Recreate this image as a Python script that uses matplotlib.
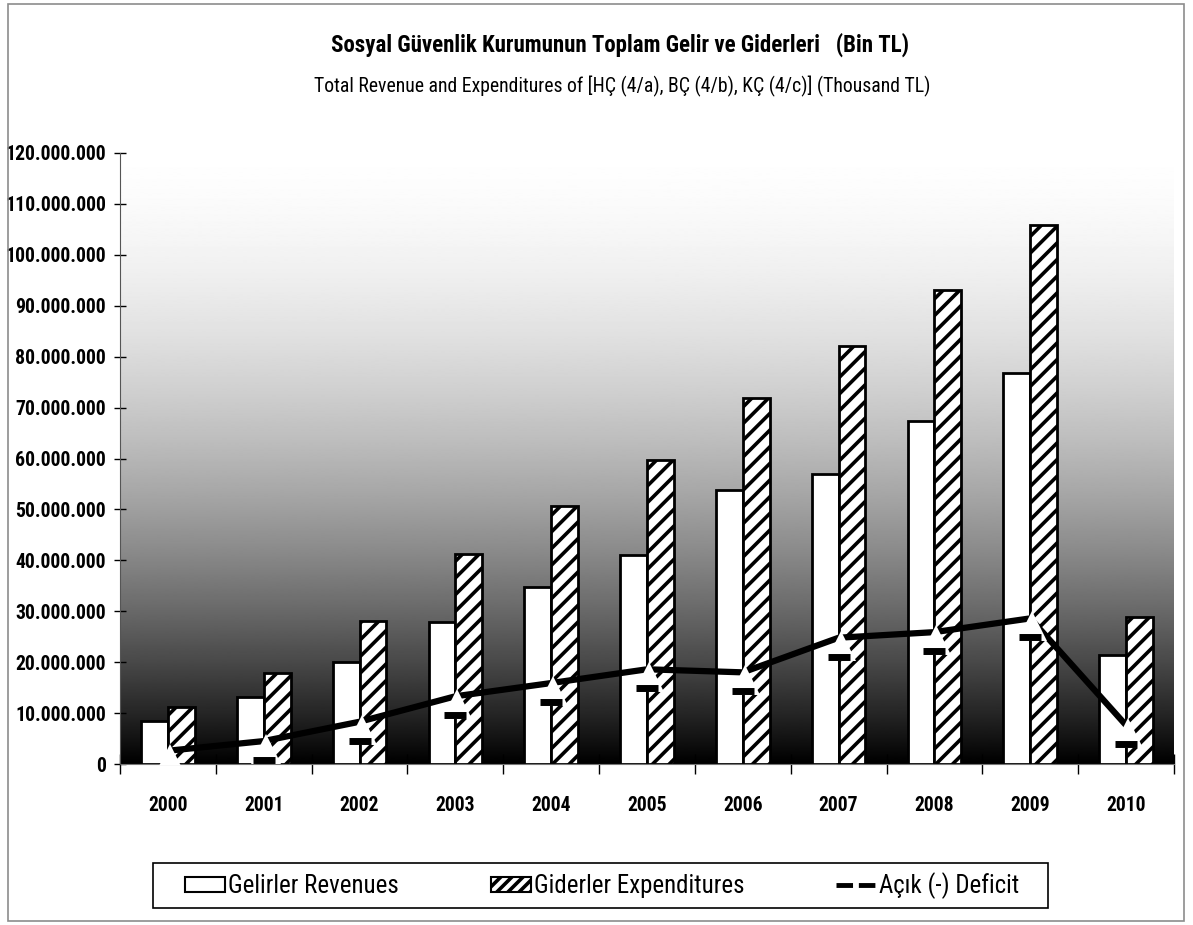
import numpy as np
import matplotlib
matplotlib.use("Agg")
import matplotlib.pyplot as plt
from matplotlib.patches import Patch, Rectangle
from matplotlib.lines import Line2D
from matplotlib.ticker import FuncFormatter, MultipleLocator, FixedLocator
from matplotlib import font_manager as fm
import matplotlib.transforms as mtransforms

years = ["2000", "2001", "2002", "2003", "2004", "2005", "2006", "2007", "2008", "2009", "2010"]
revenues = [8.4e6, 13.1e6, 20.0e6, 27.9e6, 34.8e6, 41.0e6, 53.8e6, 57.0e6, 67.3e6, 76.7e6, 21.5e6]
expenditures = [11.1e6, 17.9e6, 28.0e6, 41.2e6, 50.7e6, 59.8e6, 71.9e6, 82.0e6, 93.1e6, 105.9e6, 28.9e6]
deficit = [2.6e6, 4.5e6, 8.3e6, 13.3e6, 15.9e6, 18.6e6, 18.0e6, 24.8e6, 25.9e6, 28.6e6, 7.6e6]

title = "Sosyal Güvenlik Kurumunun Toplam Gelir ve Giderleri   (Bin TL)"
subtitle = "Total Revenue and Expenditures of [HÇ (4/a), BÇ (4/b), KÇ (4/c)] (Thousand TL)"
labels = ["Gelirler Revenues", "Giderler Expenditures", "Açık (-) Deficit"]

# ---- pick the narrowest available sans font ----
names = {f.name for f in fm.fontManager.ttflist}
family, stretch = "DejaVu Sans", "normal"
for cand in ["Liberation Sans Narrow", "Arial Narrow", "Roboto Condensed", "Open Sans Condensed",
             "Noto Sans Condensed", "DejaVu Sans Condensed"]:
    if cand in names:
        family = cand
        break
else:
    for f in fm.fontManager.ttflist:
        if f.name == "DejaVu Sans" and ("condensed" in str(f.stretch).lower() or "Condensed" in f.fname):
            stretch = "condensed"
            break

plt.rcParams['font.family'] = [family, "DejaVu Sans"]
plt.rcParams['font.stretch'] = stretch
plt.rcParams['hatch.linewidth'] = 2.6

W, H = 1193, 925
fig = plt.figure(figsize=(W / 100, H / 100), dpi=100)
fig.patch.set_facecolor("white")

# scale fonts so that the text widths match the reference
renderer = fig.canvas.get_renderer()
def width_of(s, size, weight="normal"):
    p = fig.text(0, 0, s, fontsize=size, fontweight=weight)
    w = p.get_window_extent(renderer).width
    p.remove()
    return w

fs_ytick = 14.5 * 102.0 / width_of("120.000.000", 14.5, "bold")
fs_xtick = 14.5 * 40.0 / width_of("2000", 14.5, "bold")
fs_title = 15.5 * 580.0 / width_of(title, 15.5, "bold")
fs_sub = 14.0 * 620.0 / width_of(subtitle, 14.0)
fs_leg = 14.0 * 172.0 / width_of(labels[0], 14.0)
fs_leg_px = fs_leg * 100 / 72

# outer frame
fig.add_artist(Rectangle((8 / W, 1 - 921 / H), (1184 - 8) / W, (921 - 4) / H,
                         transform=fig.transFigure, fill=False, edgecolor="#8c8c8c", lw=1.2))

ax = fig.add_axes([120 / W, 1 - 764 / H, (1174 - 120) / W, (764 - 153) / H])

# gradient background (white at top to black at bottom)
t = np.linspace(0, 1, 600)[:, None]
grad = 1 - 0.15 * t - 0.85 * t ** 2
ax.imshow(grad, cmap="gray", vmin=0, vmax=1, aspect="auto", extent=[0, 1, 0, 1],
          transform=ax.transAxes, zorder=0, interpolation="bilinear")

x = np.arange(len(years))
bw = 0.28
ax.bar(x - bw / 2, revenues, bw, color="white", edgecolor="black", lw=2, zorder=2)
ax.bar(x + bw / 2, expenditures, bw, color="white", edgecolor="black", lw=2, hatch="//", zorder=2)

ax.plot(x, deficit, color="black", lw=4.5, zorder=3, solid_capstyle="butt")
off_tri = ax.transData + mtransforms.ScaledTranslation(0.02, -0.08, fig.dpi_scale_trans)
off_dash = ax.transData + mtransforms.ScaledTranslation(0.0, -0.19, fig.dpi_scale_trans)
ax.plot(x, deficit, linestyle="none", marker="^", markersize=22, markerfacecolor="white",
        markeredgecolor="white", markeredgewidth=0, transform=off_tri, zorder=4)
ax.plot(x, deficit, linestyle="none", marker="_", markersize=16, markeredgewidth=5,
        color="black", transform=off_dash, zorder=5)

ax.set_xlim(-0.5, len(years) - 0.5)
ax.set_ylim(0, 120e6)
ax.yaxis.set_major_locator(MultipleLocator(10e6))
ax.yaxis.set_major_formatter(FuncFormatter(lambda v, p: f"{int(round(v)):,}".replace(",", ".")))
ax.set_xticks(x)
ax.set_xticklabels(years)
ax.xaxis.set_minor_locator(FixedLocator(np.arange(-0.5, len(years), 1.0)))
ax.tick_params(axis="x", which="major", length=0, pad=23, labelsize=fs_xtick)
ax.tick_params(axis="x", which="minor", length=14, direction="inout", width=1)
ax.tick_params(axis="y", which="major", length=8, direction="inout", width=1, pad=6, labelsize=fs_ytick)
for lab in ax.get_xticklabels() + ax.get_yticklabels():
    lab.set_fontweight("bold")
for s in ["top", "right"]:
    ax.spines[s].set_visible(False)
ax.spines["left"].set_color("#555555")
ax.spines["bottom"].set_color("#777777")
ax.spines["left"].set_zorder(6)

fig.text(620 / W, 1 - 45 / H, title, ha="center", va="center", fontsize=fs_title, fontweight="bold")
fig.text(622 / W, 1 - 86 / H, subtitle, ha="center", va="center", fontsize=fs_sub)

handles = [Patch(facecolor="white", edgecolor="black", lw=1.5),
           Patch(facecolor="white", edgecolor="black", lw=1.5, hatch="///"),
           Line2D([], [], color="black", lw=3.5, linestyle=(0, (3.4, 1.2)))]
leg = fig.legend(handles, labels, loc="center left", ncol=3,
                 bbox_to_anchor=(185 / W, 1 - 885.5 / H),
                 frameon=False, fontsize=fs_leg,
                 handlelength=40 / fs_leg_px, handleheight=14 / fs_leg_px,
                 handletextpad=3 / fs_leg_px, columnspacing=92 / fs_leg_px,
                 borderpad=0, borderaxespad=0)
fig.add_artist(Rectangle((153 / W, 1 - 908 / H), (1048 - 153) / W, 45 / H,
                         transform=fig.transFigure, fill=False, edgecolor="black", lw=1.2))

fig.savefig("out.png", dpi=100)
